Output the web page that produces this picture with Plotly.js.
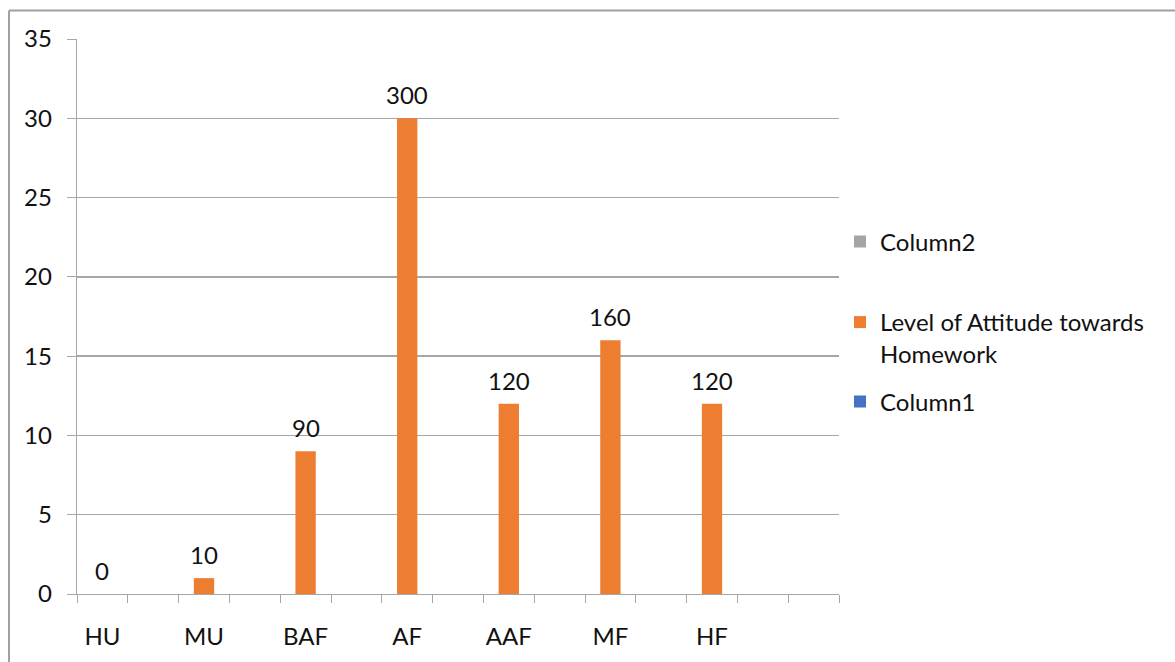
<!DOCTYPE html>
<html>
<head>
<meta charset="utf-8">
<script src="https://cdn.plot.ly/plotly-3.0.1.min.js"></script>
<style>html,body{margin:0;padding:0;background:#fff;}#chart{width:1175px;height:662px;}</style>
</head>
<body>
<div id="chart"></div>
<script>
// 15 category slots; Excel shows every other label
var categories = ['HU','','MU','','BAF','','AF','','AAF','','MF','','HF','',''];
var attitudeValues = [0,null,1,null,9,null,30,null,12,null,16,null,12,null,null];
var dataLabels = ['0','','10','','90','','300','','120','','160','','120','',''];
var column1Values = categories.map(function(){return null;});
var column2Values = categories.map(function(){return null;});
var seriesNames = ['Column1','Level of Attitude towards<br>Homework','Column2'];
var seriesColors = ['#4472C4','#ED7D31','#A5A5A5'];

var xIdx = categories.map(function(c,i){return i;});
var tickIdx = [], tickTxt = [];
categories.forEach(function(c,i){ if(c){ tickIdx.push(i); tickTxt.push(c);} });

var FONT = 'Lato, "Open Sans", sans-serif';
var FS = 24;
var TXT = '#111111';
var GRID = '#a6a6a6';

var traces = [
  {type:'bar', x:xIdx, y:column1Values, name:seriesNames[0], marker:{color:seriesColors[0]}, width:0.4, legend:'legend3', hoverinfo:'skip'},
  {type:'bar', x:xIdx, y:attitudeValues, name:seriesNames[1], marker:{color:seriesColors[1]}, width:0.4, legend:'legend2', hoverinfo:'skip'},
  {type:'bar', x:xIdx, y:column2Values, name:seriesNames[2], marker:{color:seriesColors[2]}, width:0.4, legend:'legend', hoverinfo:'skip'}
];

var annotations = [];
attitudeValues.forEach(function(v,i){
  if(v !== null && dataLabels[i] !== ''){
    annotations.push({x:i, y:v, xref:'x', yref:'y', text:dataLabels[i], showarrow:false,
      yanchor:'bottom', yshift:7, font:{family:FONT, size:FS, color:TXT}});
  }
});

function lg(px, py, anchor){
  return {xref:'container', yref:'container', x:px/1175, y:1-py/662, xanchor:'left', yanchor:anchor,
    bgcolor:'rgba(0,0,0,0)', font:{family:FONT, size:FS, color:TXT}, valign:'top', itemwidth:30};
}

var layout = {
  width:1175, height:662,
  margin:{l:77, r:336, t:38.5, b:67.5},
  paper_bgcolor:'#fff', plot_bgcolor:'#fff',
  barmode:'overlay',
  font:{family:FONT, size:FS, color:TXT},
  showlegend:true,
  legend: lg(840, 242, 'middle'),
  legend2: lg(840, 338, 'middle'),
  legend3: lg(840, 402, 'middle'),
  xaxis:{type:'linear', range:[-0.5,14.5], tick0:-0.5, dtick:1, ticks:'outside', ticklen:8, tickcolor:GRID,
    showticklabels:false, showgrid:false, zeroline:false, showline:true, linecolor:GRID, linewidth:1.3, fixedrange:true},
  xaxis2:{type:'linear', overlaying:'x', anchor:'y', side:'bottom', range:[-0.5,14.5], tickvals:tickIdx, ticktext:tickTxt,
    ticks:'outside', ticklen:21, tickcolor:'rgba(0,0,0,0)', showgrid:false, zeroline:false, showline:false,
    tickfont:{family:FONT, size:FS, color:TXT}, fixedrange:true},
  yaxis:{range:[0,35], dtick:5, tick0:0, ticks:'outside', ticklen:9, tickcolor:GRID, showgrid:true, gridcolor:GRID,
    gridwidth:1.3, zeroline:false, showline:true, linecolor:GRID, linewidth:1.3, ticklabelstandoff:10,
    tickfont:{family:FONT, size:FS, color:TXT}, fixedrange:true},
  annotations:annotations,
  shapes:[
    {type:'line', xref:'paper', yref:'paper', x0:(9-77)/762, x1:(9-77)/762, y0:(594.5-700)/556, y1:(594.5-10)/556, line:{color:'#a0a0a0', width:2}},
    {type:'line', xref:'paper', yref:'paper', x0:(9-77)/762, x1:(1200-77)/762, y0:(594.5-10)/556, y1:(594.5-10)/556, line:{color:'#a0a0a0', width:2}}
  ]
};
// dummy trace to activate xaxis2 tick labels
traces.push({type:'scatter', x:[tickIdx[0]], y:[null], xaxis:'x2', showlegend:false, hoverinfo:'skip'});

Plotly.newPlot('chart', traces, layout, {displayModeBar:false, staticPlot:true});
</script>
</body>
</html>
